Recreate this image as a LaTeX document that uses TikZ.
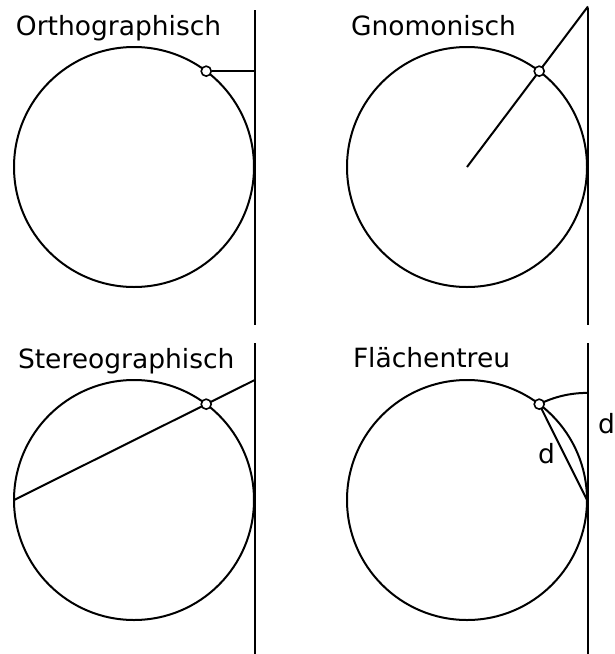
\documentclass[tikz,border=0pt]{standalone}
\usepackage{fontspec}
\setmainfont{DejaVu Sans}
\usetikzlibrary{calc}

\begin{document}
\begin{tikzpicture}[x=1pt,y=-1pt,line width=2pt,
		kreis/.style={draw,circle,minimum size=240pt,inner sep=0pt},
		punkt/.style={draw,circle,fill=white,minimum size=10pt,inner sep=0pt,line width=1.6pt},
		titel/.style={anchor=base west,inner sep=0pt,font=\fontsize{26.5}{30}\selectfont}]
		\useasboundingbox (0,0) rectangle (614,654);
		
		%Mittelpunkte
		\coordinate (c1) at (134,167);
		\coordinate (c2) at (467,167);
		\coordinate (c3) at (134,500);
		\coordinate (c4) at (467,500);
		\foreach \i in {1,...,4}
			\coordinate (p\i) at ($(c\i)+(-53:120)$);
		
		%Ebenen
		\draw (255,10) coordinate (a1) -- (255,325) coordinate (b1);
		\draw (588,8) coordinate (a2) -- (588,325) coordinate (b2);
		\draw (255,343) coordinate (a3) -- (255,654) coordinate (b3);
		\draw (588,343) coordinate (a4) -- (588,654) coordinate (b4);
		
		%Orthographisch
		\node[kreis] (k1) at (c1) {};
		\coordinate (q1) at (p1 -| a1);
		\node[punkt] (n1) at (p1) {};
		\draw (n1) -- (q1);
		\node[titel] (t1) at (15,35) {Orthographisch};
		
		%Gnomonisch
		\node[kreis] (k2) at (c2) {};
		\coordinate (q2) at (intersection of c2--p2 and a2--b2);
		\draw (c2) -- (q2);
		\node[punkt] (n2) at (p2) {};
		\node[titel] (t2) at (350,35) {Gnomonisch};
		
		%Stereographisch
		\node[kreis] (k3) at (c3) {};
		\coordinate (s3) at ($(c3)+(-120,0)$);
		\coordinate (q3) at (intersection of s3--p3 and a3--b3);
		\draw (s3) -- (q3);
		\node[punkt] (n3) at (p3) {};
		\node[titel] (t3) at (17,368) {Stereographisch};
		
		%Flaechentreu
		\node[kreis] (k4) at (c4) {};
		\coordinate (s4) at ($(c4)+(120,0)$);
		\draw (p4) -- (s4);
		\draw (p4) arc[start angle=-116.5,end angle=-90,radius=107.1] -- ++(1,0) coordinate (q4);
		\node[punkt] (n4) at (p4) {};
		\node[titel] (t4) at (352,367) {Flächentreu};
		\node[titel] (d1) at (597,433) {d};
		\node[titel] (d2) at (537,463) {d};
		
	\end{tikzpicture}
\end{document}
